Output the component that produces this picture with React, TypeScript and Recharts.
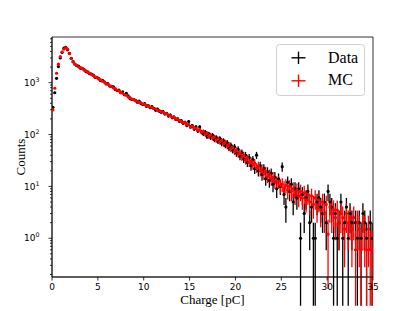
import { ScatterChart, Scatter, XAxis, YAxis, ErrorBar, ReferenceArea } from "recharts";

// histogram bins: 0 - 35 pC, 0.2 pC wide
const BIN_WIDTH = 0.2;

const DATA_COUNTS = [
  335, 640, 1215, 2040, 3000, 3800, 4620, 4810, 4300, 3680,
  2960, 2540, 2290, 2120, 2090, 1905, 1880, 1790, 1640, 1610,
  1490, 1465, 1400, 1270, 1262, 1200, 1095, 1110, 1040, 945,
  958, 860, 845, 830, 742, 705, 718, 640, 665, 585,
  620, 560, 490, 475, 470, 455, 420, 440, 395, 380,
  395, 350, 362, 330, 345, 318, 295, 310, 282, 270,
  278, 250, 255, 228, 238, 212, 218, 196, 200, 180,
  186, 165, 172, 150, 178, 140, 148, 128, 140, 118,
  140, 112, 104, 112, 92, 103, 88, 97, 80, 88,
  74, 84, 68, 76, 62, 70, 55, 62, 50, 58,
  44, 52, 38, 45, 34, 40, 29, 36, 25, 33,
  22, 40, 20, 25, 17, 22, 14, 19, 13, 18,
  11, 15, 9, 14, 10, 24, 7, 4, 12, 8,
  11, 5, 9, 6, 9, 1, 7, 3, 6, 8,
  2, 4, 1, 1, 5, 6, 4, 3, 5, 2,
  8, 5, 4, 1, 3, 1, 2, 5, 1, 2,
  4, 1, 3, 2, 0, 2, 1, 2, 1, 3,
  2, 1, 0, 2, 1,
];

const MC_COUNTS = [
  300, 780, 1520, 2270, 3170, 3920, 4450, 4700, 4420, 3630,
  2900, 2510, 2265, 2170, 2025, 1945, 1870, 1750, 1690, 1580,
  1525, 1430, 1380, 1300, 1250, 1175, 1135, 1065, 1025, 965,
  935, 872, 842, 790, 768, 715, 695, 650, 628, 590,
  570, 532, 518, 482, 470, 448, 436, 416, 408, 388,
  381, 362, 356, 338, 334, 318, 311, 296, 291, 276,
  272, 255, 252, 236, 233, 216, 214, 198, 199, 183,
  182, 168, 170, 154, 157, 141, 146, 131, 133, 120,
  124, 111, 115, 102, 106, 93, 98, 86, 90, 78,
  83, 72, 77, 66, 71, 60, 64, 53, 56, 47,
  50, 42, 45, 37, 40, 32, 35, 29, 31, 26,
  28, 23, 25, 20, 22, 17.5, 19.5, 15.5, 17, 14,
  15, 12.5, 12, 12.5, 10.5, 11, 9.5, 10.5, 8.5, 10,
  8, 9, 7, 8.5, 6.5, 8, 6, 7.5, 5.5, 7,
  5, 6.5, 4.5, 6, 4, 5.5, 3.5, 5, 3, 4.5,
  1.2, 4, 3, 3.5, 2.5, 3.5, 2, 3, 2.5, 1.5,
  3, 2, 2.5, 1.5, 2.5, 0.6, 2, 1.5, 0.6, 2,
  1.5, 0.6, 1.5, 0.6, 0.6,
];

const X_TICKS = [0, 5, 10, 15, 20, 25, 30, 35];
const Y_MAJOR = [1, 10, 100, 1000];
const Y_MINOR = [
  0.2, 0.3, 0.4, 0.5, 0.6, 0.7, 0.8, 0.9,
  2, 3, 4, 5, 6, 7, 8, 9,
  20, 30, 40, 50, 60, 70, 80, 90,
  200, 300, 400, 500, 600, 700, 800, 900,
  2000, 3000, 4000, 5000, 6000, 7000,
];
const X_DOMAIN = [0, 35];
const Y_DOMAIN = [0.179, 7600];

const CHARGE = DATA_COUNTS.map((_, i) => BIN_WIDTH * (i + 0.5));

const TICK_SIZE = 3.5;
const X_TICK_MARGIN = 3;
const Y_TICK_MARGIN = 9;
const TICK_FONT = "'DejaVu Sans', sans-serif";
const LABEL_FONT = "'Liberation Serif', 'Times New Roman', serif";

// poisson-style error bars, lower end clipped below the axis
function buildPoints(values: number[]) {
  return values
    .map((v, i) => {
      const e = Math.sqrt(v);
      const lo = Math.max(v - e, 0.05);
      return { x: CHARGE[i], y: v, yerr: [v - lo, e], xerr: BIN_WIDTH / 2 };
    })
    .filter((p) => p.y > 0);
}

const dataPoints = buildPoints(DATA_COUNTS);
const mcPoints = buildPoints(MC_COUNTS);

const dot = (color: string) => (props: any) =>
  <circle cx={props.cx} cy={props.cy} r={1.6} fill={color} />;

function YTick(props: any) {
  const { x, y, payload } = props;
  const v = payload.value;
  const axisX = x + TICK_SIZE + Y_TICK_MARGIN;
  const major = Y_MAJOR.includes(v);
  return (
    <g>
      <line x1={axisX} x2={axisX - (major ? 3.5 : 2)} y1={y} y2={y} stroke="#000" strokeWidth={0.8} />
      {major && (
        <text x={x} y={y} dy="0.36em" textAnchor="end" fontSize={9} fontFamily={TICK_FONT} fill="#000">
          10<tspan dy={-4} fontSize={6.3}>{Math.round(Math.log10(v))}</tspan>
        </text>
      )}
    </g>
  );
}

function YLabel(props: any) {
  const { viewBox } = props;
  const cx = viewBox.x + 25;
  const cy = viewBox.y + viewBox.height / 2;
  return (
    <text x={cx} y={cy} transform={`rotate(-90 ${cx} ${cy})`} textAnchor="middle" fontSize={13} fontFamily={LABEL_FONT} fill="#000">
      Counts
    </text>
  );
}

function XLabel(props: any) {
  const { viewBox } = props;
  return (
    <text x={viewBox.x + viewBox.width / 2} y={viewBox.y + 26.5} textAnchor="middle" fontSize={13} fontFamily={LABEL_FONT} fill="#000">
      Charge [pC]
    </text>
  );
}

function LegendBox() {
  const rows = [
    { name: "Data", color: "#000", cy: 12.8, base: 19 },
    { name: "MC", color: "#ff0000", cy: 35.8, base: 41.1 },
  ];
  return (
    <svg width={90} height={53} style={{ position: "absolute", left: 276, top: 44 }}>
      <rect x={0.5} y={0.5} width={88} height={51} rx={3} fill="#fff" fillOpacity={0.8} stroke="#d0d0d0" strokeWidth={1} />
      {rows.map((r) => (
        <g key={r.name}>
          <line x1={15.5} x2={29.5} y1={r.cy + 1} y2={r.cy + 1} stroke={r.color} strokeWidth={1.4} />
          <line x1={22.5} x2={22.5} y1={r.cy - 5.2} y2={r.cy + 7.2} stroke={r.color} strokeWidth={1.4} />
          <text x={52} y={r.base} fontSize={16} fontFamily={LABEL_FONT} fill="#000">{r.name}</text>
        </g>
      ))}
    </svg>
  );
}

export default function App() {
  return (
    <div style={{ position: "absolute", left: 0, top: 0, width: 415, height: 311, background: "#fff" }}>
      <ScatterChart width={415} height={311} margin={{ top: 37, right: 42, bottom: 0, left: 0 }}>
        <XAxis
          type="number"
          dataKey="x"
          domain={X_DOMAIN}
          ticks={X_TICKS}
          interval={0}
          allowDataOverflow
          height={34}
          tickSize={TICK_SIZE}
          tickMargin={X_TICK_MARGIN}
          axisLine={{ stroke: "#000", strokeWidth: 0.8 }}
          tickLine={{ stroke: "#000", strokeWidth: 0.8 }}
          tick={{ fontSize: 9, fontFamily: TICK_FONT, fill: "#000" }}
          label={<XLabel />}
        />
        <YAxis
          type="number"
          dataKey="y"
          scale="log"
          domain={Y_DOMAIN}
          ticks={[...Y_MINOR, ...Y_MAJOR].sort((a, b) => a - b)}
          interval={0}
          allowDataOverflow
          width={52}
          tickSize={TICK_SIZE}
          tickMargin={Y_TICK_MARGIN}
          axisLine={{ stroke: "#000", strokeWidth: 0.8 }}
          tickLine={false}
          tick={<YTick />}
          label={<YLabel />}
        />
        <ReferenceArea x1={X_DOMAIN[0]} x2={X_DOMAIN[1]} y1={Y_DOMAIN[0]} y2={Y_DOMAIN[1]} fill="none" stroke="#000" strokeWidth={0.8} ifOverflow="visible" />
        <Scatter name="Data" data={dataPoints} fill="#000" shape={dot("#000")} isAnimationActive={false}>
          <ErrorBar dataKey="yerr" direction="y" width={0} stroke="#000" strokeWidth={1.3} isAnimationActive={false} />
          <ErrorBar dataKey="xerr" direction="x" width={0} stroke="#000" strokeWidth={1.3} isAnimationActive={false} />
        </Scatter>
        <Scatter name="MC" data={mcPoints} fill="#ff0000" shape={dot("#ff0000")} isAnimationActive={false}>
          <ErrorBar dataKey="yerr" direction="y" width={0} stroke="#ff0000" strokeWidth={1.3} isAnimationActive={false} />
          <ErrorBar dataKey="xerr" direction="x" width={0} stroke="#ff0000" strokeWidth={1.3} isAnimationActive={false} />
        </Scatter>
      </ScatterChart>
      <LegendBox />
    </div>
  );
}
